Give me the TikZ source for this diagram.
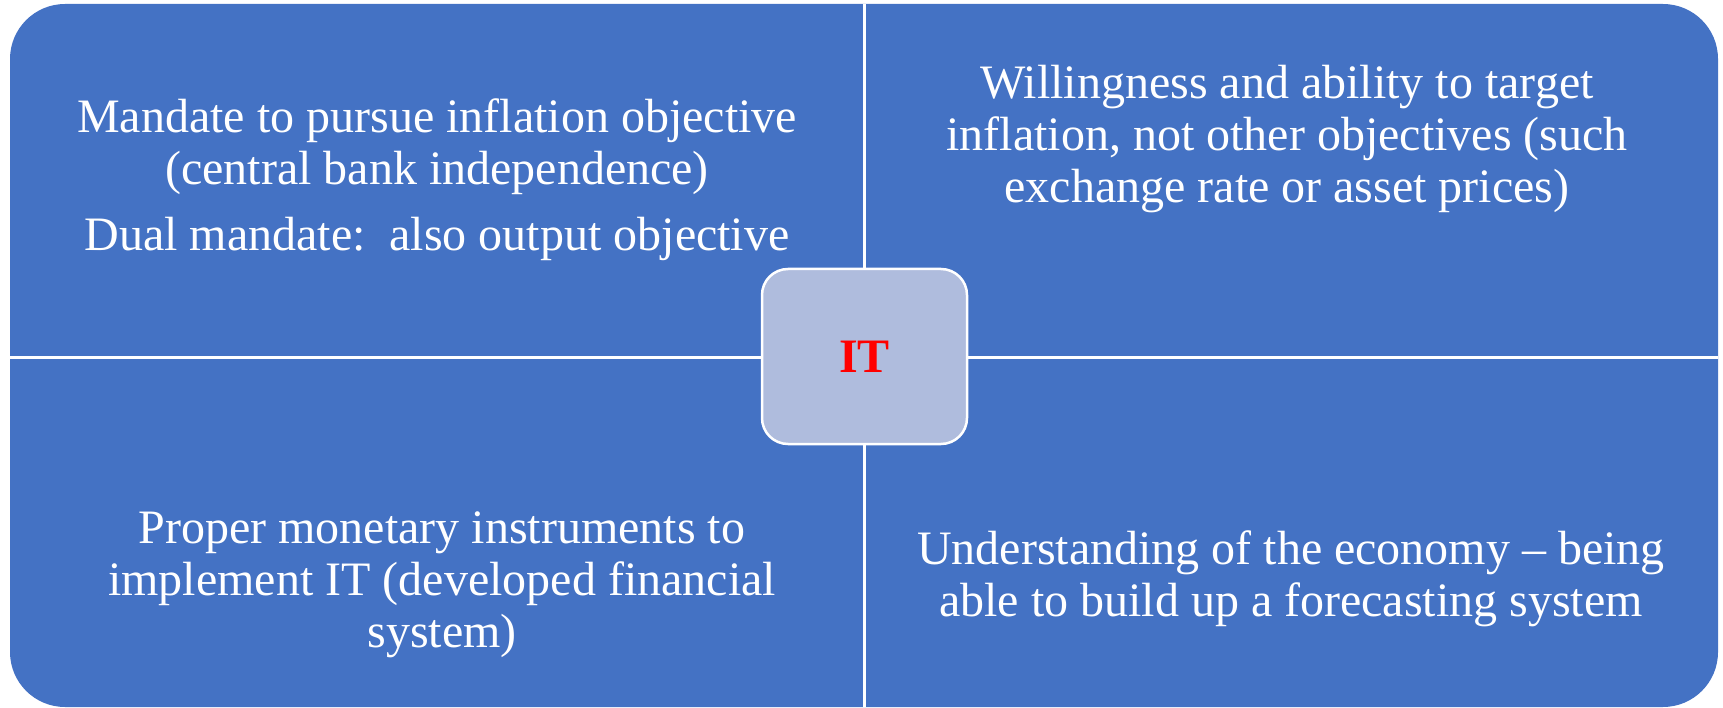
\documentclass[tikz,border=0pt]{standalone}
\usepackage{fontspec}
\setmainfont{Liberation Serif}
\definecolor{panelblue}{HTML}{4472C4}
\definecolor{hubfill}{HTML}{AFBCDD}
\begin{document}
\begin{tikzpicture}[x=1pt,y=-1pt,
  panel/.style={fill=panelblue},
  divider/.style={draw=white,line width=3pt},
  quadtext/.style={text=white,align=center,inner sep=0pt,
    font=\fontsize{48}{52}\selectfont},
  hub/.style={draw=white,line width=2.5pt,fill=hubfill,rounded corners=26pt,
    minimum width=205pt,minimum height=175pt,inner sep=0pt,
    text=red,font=\fontsize{48}{52}\selectfont\bfseries}]
  \useasboundingbox (0,0) rectangle (1723,708);

  % blue panel split into four quadrants
  \fill[panel,rounded corners=55pt] (10,4) rectangle (1718,707);
  \draw[divider] (864,4) -- (864,707);
  \draw[divider] (10,357) -- (1718,357);

  % quadrant texts
  \node[quadtext] (mandate) at (437,180)
    {Mandate to pursue inflation objective\\(central bank independence)\\[14pt]
     Dual mandate:\ \ also output objective};
  \node[quadtext] (willing) at (1287,139)
    {Willingness and ability to target\\inflation, not other objectives (such\\
     exchange rate or asset prices)};
  \node[quadtext] (instruments) at (442,585)
    {Proper monetary instruments to\\implement IT (developed financial\\system)};
  \node[quadtext] (economy) at (1291,579)
    {Understanding of the economy – being\\able to build up a forecasting system};

  % central hub
  \node[hub] (it) at (864.5,356.5) {IT};
\end{tikzpicture}
\end{document}
